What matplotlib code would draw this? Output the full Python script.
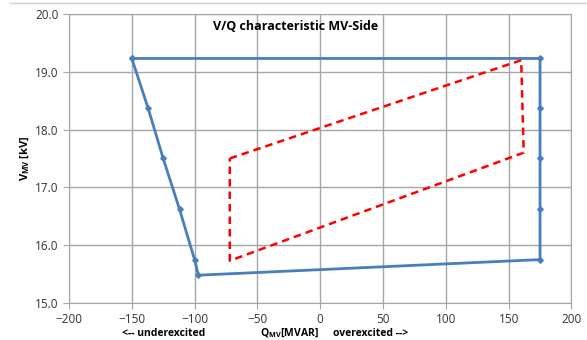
import matplotlib
matplotlib.use('Agg')
import matplotlib.pyplot as plt
from matplotlib.lines import Line2D

plt.rcParams['font.family'] = ['Open Sans', 'DejaVu Sans']

# blue capability curve (Q in MVAR, V in kV)
q_limit = [-150, -137, -125, -112, -100, -97, 175, 175, 175, 175, 175, -150]
v_limit = [19.23, 18.37, 17.5, 16.62, 15.75, 15.48, 15.75, 16.62, 17.5, 18.37, 19.23, 19.23]

# red dashed operating area
q_op = [-72, 160, 162, -72, -72]
v_op = [17.5, 19.2, 17.6, 15.73, 17.5]

xticks = [-200, -150, -100, -50, 0, 50, 100, 150, 200]
yticks = [15.0, 16.0, 17.0, 18.0, 19.0, 20.0]

fig = plt.figure(figsize=(5.87, 3.40), dpi=100)
ax = fig.add_axes([0.1175, 0.109, 0.856, 0.85])

ax.plot(q_limit, v_limit, color='#4A7EBB', lw=2, marker='D', ms=2.8, zorder=3)
ax.plot(q_op, v_op, color='#FF0000', lw=1.8, ls=(0, (3, 2)), zorder=3)

ax.set_xlim(-200, 200)
ax.set_ylim(15, 20)
ax.set_xticks(xticks)
ax.set_yticks(yticks)
ax.set_yticklabels(['%.1f' % v for v in yticks])
ax.grid(True, color='#A6A6A6', lw=1)
ax.set_axisbelow(True)
for s in ax.spines.values():
    s.set_color('#A6A6A6')
ax.tick_params(colors='#A6A6A6', labelcolor='#333333', labelsize=8.5, length=4)

ax.text(0.45, 0.955, 'V/Q characteristic MV-Side', transform=ax.transAxes,
        ha='center', va='center', fontsize=9, fontweight='bold')

ax.set_ylabel(r'V$_\mathregular{MV}$ [kV]', fontsize=8, fontweight='bold', labelpad=2)
fig.text(164/587, 1-333/340, '<-- underexcited', ha='center', va='center', fontsize=7.5, fontweight='bold')
fig.text(289/587, 1-333/340, r'Q$_\mathregular{MV}$[MVAR]', ha='center', va='center', fontsize=7.5, fontweight='bold')
fig.text(371/587, 1-333/340, 'overexcited -->', ha='center', va='center', fontsize=7.5, fontweight='bold')

# chart border line at the top
fig.add_artist(Line2D([10/587, 1], [1-3/340, 1-3/340], color='#D0D0D0', lw=1))

fig.savefig('out.png', dpi=100)
